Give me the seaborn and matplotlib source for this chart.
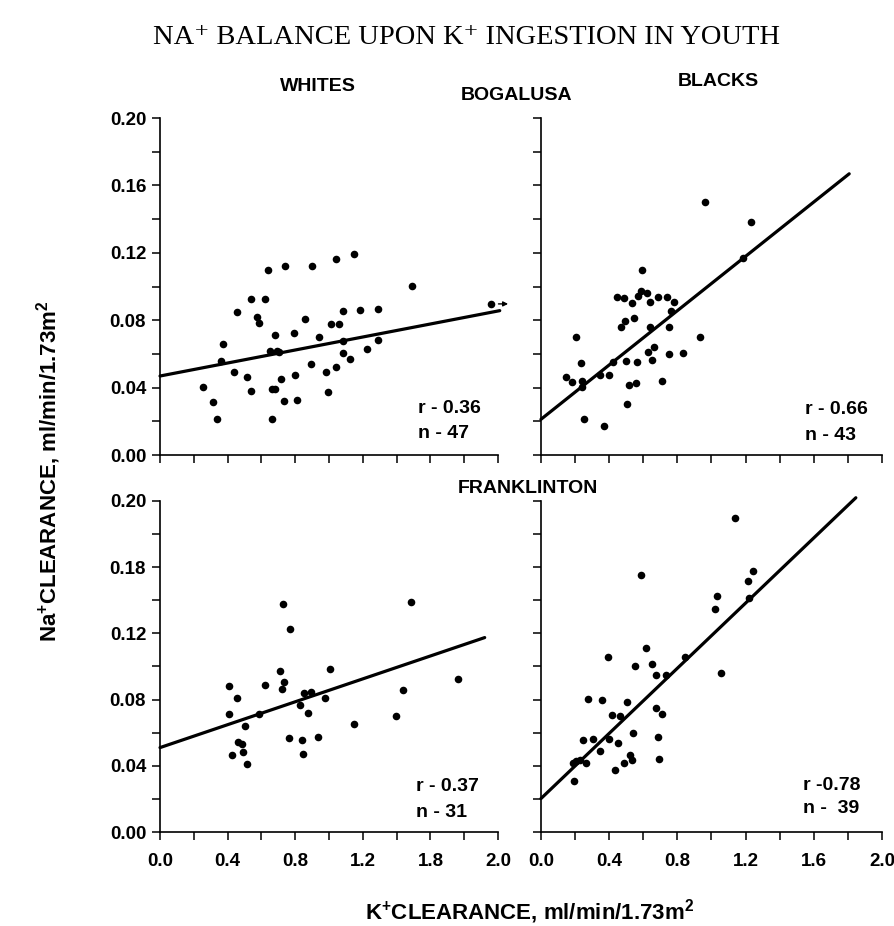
import numpy as np
import pandas as pd
import matplotlib
matplotlib.use("Agg")
import matplotlib.pyplot as plt
import seaborn as sns

# values
wb_k = [0.252, 0.311, 0.335, 0.359, 0.374, 0.437, 0.457, 0.516, 0.536, 0.536,
        0.571, 0.583, 0.621, 0.640, 0.650, 0.660, 0.662, 0.678, 0.678, 0.690,
        0.705, 0.713, 0.735, 0.739, 0.792, 0.798, 0.808, 0.855, 0.891, 0.902,
        0.938, 0.981, 0.995, 1.009, 1.040, 1.044, 1.056, 1.080, 1.080, 1.084,
        1.123, 1.149, 1.182, 1.225, 1.287, 1.287, 1.488, 1.956]
wb_na = [0.0402, 0.0317, 0.0212, 0.0558, 0.0657, 0.0493, 0.0846, 0.0461, 0.0925, 0.0382,
         0.0822, 0.0782, 0.0925, 0.1099, 0.0620, 0.0394, 0.0214, 0.0715, 0.0394, 0.0620,
         0.0612, 0.0450, 0.0323, 0.1121, 0.0723, 0.0475, 0.0325, 0.0808, 0.0539, 0.1123,
         0.0703, 0.0493, 0.0372, 0.0776, 0.0521, 0.1162, 0.0780, 0.0675, 0.0604, 0.0853,
         0.0568, 0.1194, 0.0861, 0.0632, 0.0683, 0.0865, 0.1004, 0.0897]

bb_k = [0.145, 0.180, 0.205, 0.235, 0.239, 0.243, 0.254, 0.346, 0.372, 0.399,
        0.425, 0.446, 0.485, 0.470, 0.493, 0.497, 0.505, 0.517, 0.536, 0.548,
        0.560, 0.564, 0.568, 0.587, 0.595, 0.620, 0.630, 0.642, 0.642, 0.650,
        0.661, 0.689, 0.708, 0.738, 0.751, 0.753, 0.763, 0.783, 0.836, 0.935,
        0.963, 1.188, 1.233]
bb_na = [0.0465, 0.0436, 0.0699, 0.0545, 0.0440, 0.0406, 0.0212, 0.0475, 0.0174, 0.0473,
         0.0552, 0.0937, 0.0933, 0.0762, 0.0798, 0.0560, 0.0301, 0.0416, 0.0905, 0.0812,
         0.0430, 0.0550, 0.0941, 0.0974, 0.1099, 0.0964, 0.0614, 0.0758, 0.0911, 0.0564,
         0.0644, 0.0937, 0.0440, 0.0937, 0.0762, 0.0600, 0.0857, 0.0911, 0.0604, 0.0699,
         0.1501, 0.1172, 0.1384]

fw_k = [0.407, 0.407, 0.426, 0.454, 0.460, 0.486, 0.490, 0.505, 0.513, 0.588,
        0.624, 0.711, 0.719, 0.734, 0.730, 0.762, 0.770, 0.829, 0.841, 0.845,
        0.849, 0.875, 0.896, 0.932, 0.979, 1.003, 1.145, 1.398, 1.437, 1.485,
        1.763]
fw_na = [0.0882, 0.0715, 0.0467, 0.0812, 0.0544, 0.0530, 0.0483, 0.0643, 0.0413, 0.0715,
         0.0886, 0.0971, 0.0864, 0.0904, 0.1376, 0.0570, 0.1227, 0.0765, 0.0554, 0.0473,
         0.0840, 0.0719, 0.0846, 0.0574, 0.0812, 0.0983, 0.0653, 0.0699, 0.0858, 0.1392,
         0.0924]

fb_k = [0.186, 0.194, 0.205, 0.229, 0.248, 0.264, 0.274, 0.303, 0.346, 0.358,
        0.395, 0.397, 0.416, 0.432, 0.452, 0.463, 0.489, 0.502, 0.522, 0.534,
        0.538, 0.553, 0.588, 0.616, 0.651, 0.674, 0.674, 0.686, 0.694, 0.710,
        0.733, 0.843, 1.022, 1.032, 1.058, 1.136, 1.212, 1.218, 1.245]
fb_na = [0.0418, 0.0309, 0.0430, 0.0434, 0.0556, 0.0418, 0.0806, 0.0560, 0.0487, 0.0798,
         0.1057, 0.0564, 0.0705, 0.0374, 0.0535, 0.0701, 0.0414, 0.0784, 0.0465, 0.0434,
         0.0600, 0.1000, 0.1550, 0.1111, 0.1016, 0.0949, 0.0747, 0.0576, 0.0444, 0.0713,
         0.0949, 0.1057, 0.1347, 0.1428, 0.0960, 0.1895, 0.1515, 0.1414, 0.1576]

# regression lines: intercept, slope, x where the drawn line stops
intercepts = [0.0469, 0.0212, 0.0510, 0.0202]
slopes = [0.0193, 0.0806, 0.0346, 0.0984]
line_ends = [2.01, 1.808, 1.921, 1.847]

stats = [("r - 0.36", "n - 47"), ("r - 0.66", "n - 43"),
         ("r - 0.37", "n - 31"), ("r -0.78", "n -  39")]

left_xlabels = ["0.0", "0.4", "0.8", "1.2", "1.8", "2.0"]
right_xlabels = ["0.0", "0.4", "0.8", "1.2", "1.6", "2.0"]
top_ylabels = ["0.00", "0.04", "0.08", "0.12", "0.16", "0.20"]
bottom_ylabels = ["0.00", "0.04", "0.08", "0.12", "0.18", "0.20"]

sns.set_style("ticks")
plt.rcParams["font.family"] = ["Liberation Sans", "DejaVu Sans"]
plt.rcParams["font.weight"] = "bold"
plt.rcParams["text.color"] = "black"
plt.rcParams["axes.labelcolor"] = "black"
plt.rcParams["xtick.color"] = "black"
plt.rcParams["ytick.color"] = "black"
plt.rcParams["mathtext.fontset"] = "custom"
plt.rcParams["mathtext.rm"] = "Liberation Sans:bold"
plt.rcParams["mathtext.bf"] = "Liberation Sans:bold"
plt.rcParams["mathtext.default"] = "rm"

panels = [(wb_k, wb_na), (bb_k, bb_na), (fw_k, fw_na), (fb_k, fb_na)]
boxes = [[0.1790, 0.5086, 0.3781, 0.3639], [0.6051, 0.5086, 0.3814, 0.3639],
         [0.1790, 0.1015, 0.3781, 0.3575], [0.6051, 0.1015, 0.3814, 0.3575]]
stat_pos = [(0.764, 0.139, 0.064), (0.775, 0.134, 0.059),
            (0.758, 0.136, 0.060), (0.769, 0.141, 0.071)]

fig = plt.figure(figsize=(8.94, 9.26), dpi=100)

for i, ((kx, ny), box) in enumerate(zip(panels, boxes)):
    ax = fig.add_axes(box)
    df = pd.DataFrame({"k": kx, "na": ny})
    sns.scatterplot(data=df, x="k", y="na", ax=ax, color="black", s=30,
                    edgecolor="black", linewidth=0, clip_on=False)
    xs = np.array([0.0, line_ends[i]])
    line_df = pd.DataFrame({"k": xs, "na": intercepts[i] + slopes[i] * xs})
    sns.lineplot(data=line_df, x="k", y="na", ax=ax, color="black",
                 linewidth=2.3, clip_on=False)

    ax.set_xlim(0, 2.0)
    ax.set_ylim(0, 0.20)
    sns.despine(ax=ax)
    for sp in ("left", "bottom"):
        ax.spines[sp].set_linewidth(1.2)
        ax.spines[sp].set_color("black")

    ax.set_xticks(np.arange(0, 2.01, 0.2))
    ax.set_yticks(np.arange(0, 0.201, 0.02))
    ax.tick_params(length=6, width=1.1, color="black", labelsize=13.5,
                   labelcolor="black", pad=4)
    ax.tick_params(axis="x", pad=9)

    if i >= 2:
        labs = left_xlabels if i == 2 else right_xlabels
        ax.set_xticklabels([labs[j // 2] if j % 2 == 0 else "" for j in range(11)])
    else:
        ax.set_xticklabels([])
    if i % 2 == 0:
        labs = top_ylabels if i == 0 else bottom_ylabels
        ax.set_yticklabels([labs[j // 2] if j % 2 == 0 else "" for j in range(11)])
    else:
        ax.set_yticklabels([])
    ax.set_xlabel("")
    ax.set_ylabel("")

    sx, ry, nyy = stat_pos[i]
    ax.text(sx, ry, stats[i][0], transform=ax.transAxes, fontsize=14,
            fontweight="bold", va="center", ha="left")
    ax.text(sx, nyy, stats[i][1], transform=ax.transAxes, fontsize=14,
            fontweight="bold", va="center", ha="left")

    if i == 0:
        # off-scale marker on the last white point
        ax.annotate("", xy=(kx[-1] + 0.12, ny[-1]), xytext=(kx[-1] + 0.03, ny[-1]),
                    arrowprops=dict(arrowstyle="-|>", color="black", lw=1,
                                    mutation_scale=7),
                    annotation_clip=False)

fig.text(0.522, 0.959, "NA⁺ BALANCE UPON K⁺ INGESTION IN YOUTH",
         family=["Liberation Serif", "DejaVu Serif"], fontweight="normal",
         fontsize=20.5, ha="center", va="center")
fig.text(0.356, 0.907, "WHITES", fontsize=14, ha="center", va="center")
fig.text(0.578, 0.897, "BOGALUSA", fontsize=14, ha="center", va="center")
fig.text(0.803, 0.912, "BLACKS", fontsize=14, ha="center", va="center")
fig.text(0.591, 0.472, "FRANKLINTON", fontsize=14, ha="center", va="center")
fig.text(0.054, 0.491, "Na$^{+}$CLEARANCE, ml/min/1.73m$^{2}$", fontsize=16,
         rotation=90, ha="center", va="center")
fig.text(0.592, 0.016, "K$^{+}$CLEARANCE, ml/min/1.73m$^{2}$", fontsize=16,
         ha="center", va="center")

fig.savefig("out.png", dpi=100, facecolor="white")
